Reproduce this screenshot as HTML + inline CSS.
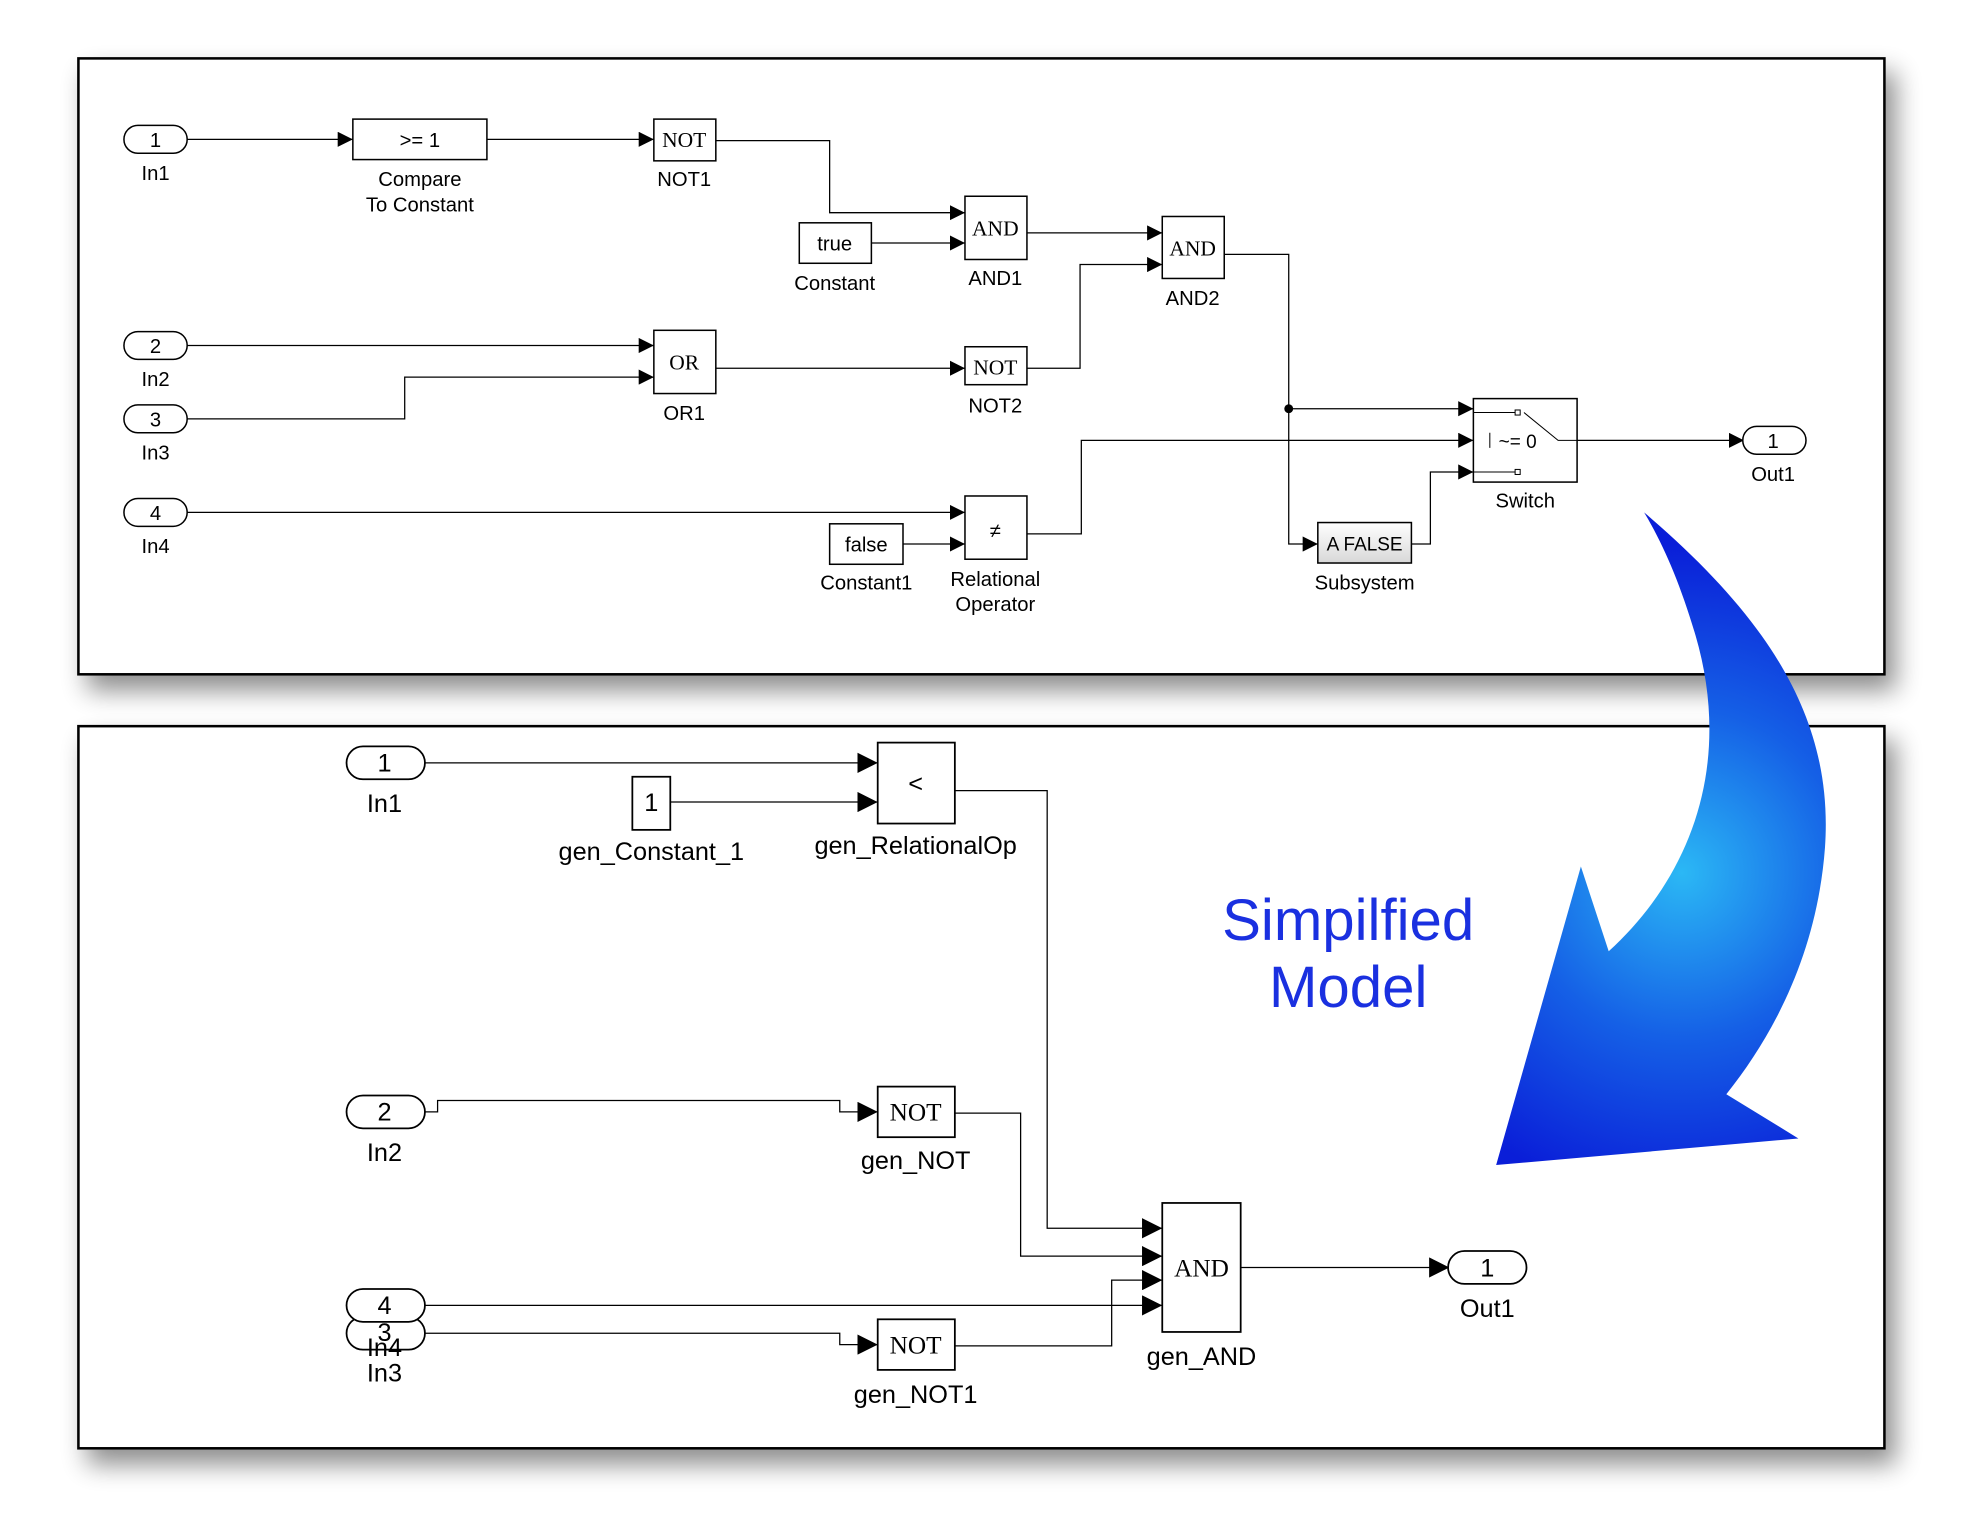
<!DOCTYPE html>
<html><head><meta charset="utf-8"><style>
html,body{margin:0;padding:0;background:#fff;}
svg{display:block;}
text{font-family:"Liberation Sans",Arial,sans-serif;fill:#000;}
text.s{font-family:"Liberation Serif","Times New Roman",serif;}
</style></head><body>
<svg width="1978" height="1532" viewBox="0 0 1564 1211" xmlns="http://www.w3.org/2000/svg">
<defs>
<filter id="sh" x="-5%" y="-5%" width="112%" height="120%"><feGaussianBlur in="SourceAlpha" stdDeviation="10"/><feOffset dx="8" dy="12"/><feComponentTransfer><feFuncA type="linear" slope="0.45"/></feComponentTransfer><feMerge><feMergeNode/><feMergeNode in="SourceGraphic"/></feMerge></filter>
<marker id="a" viewBox="0 0 10 10" refX="10" refY="5" markerWidth="12" markerHeight="12" markerUnits="userSpaceOnUse" orient="auto"><path d="M0,0L10,5L0,10z" fill="#000"/></marker>
<marker id="b" viewBox="0 0 10 10" refX="10" refY="5" markerWidth="16" markerHeight="16" markerUnits="userSpaceOnUse" orient="auto"><path d="M0,0L10,5L0,10z" fill="#000"/></marker>
<radialGradient id="g" cx="1330" cy="690" r="260" gradientUnits="userSpaceOnUse"><stop offset="0" stop-color="#2bb8f5"/><stop offset="0.5" stop-color="#1560e6"/><stop offset="1" stop-color="#0a1ed8"/></radialGradient>
<linearGradient id="sub" x1="0" y1="0" x2="0" y2="1"><stop offset="0" stop-color="#fff"/><stop offset="1" stop-color="#d8d8d8"/></linearGradient>
</defs>
<rect x="62" y="46" width="1428" height="487" fill="#fff" stroke="#000" stroke-width="2" filter="url(#sh)"/>
<rect x="62" y="574" width="1428" height="571" fill="#fff" stroke="#000" stroke-width="2" filter="url(#sh)"/>

<!-- TOP -->
<g fill="none" stroke="#000" stroke-width="1">
<path d="M148,110H279" marker-end="url(#a)"/>
<path d="M385,110H517" marker-end="url(#a)"/>
<path d="M566,111H656V168H763" marker-end="url(#a)"/>
<path d="M689,192H763" marker-end="url(#a)"/>
<path d="M812,184H919" marker-end="url(#a)"/>
<path d="M968,201H1019V430H1042" marker-end="url(#a)"/>
<path d="M1019,323H1165" marker-end="url(#a)"/>
<path d="M148,273H517" marker-end="url(#a)"/>
<path d="M148,331H320V298H517" marker-end="url(#a)"/>
<path d="M566,291H763" marker-end="url(#a)"/>
<path d="M812,291H854V209H919" marker-end="url(#a)"/>
<path d="M148,405H763" marker-end="url(#a)"/>
<path d="M714,430H763" marker-end="url(#a)"/>
<path d="M812,422H855V348H1165" marker-end="url(#a)"/>
<path d="M1116,430H1131V373H1165" marker-end="url(#a)"/>
<path d="M1247,348H1379" marker-end="url(#a)"/>
</g>
<circle cx="1019" cy="323" r="3.5" fill="#000"/>
<g fill="#fff" stroke="#000" stroke-width="1.2">
<rect x="98" y="99" width="50" height="22" rx="11"/>
<rect x="98" y="262" width="50" height="22" rx="11"/>
<rect x="98" y="320" width="50" height="22" rx="11"/>
<rect x="98" y="394" width="50" height="22" rx="11"/>
<rect x="1378" y="337" width="50" height="22" rx="11"/>
<rect x="279" y="94" width="106" height="32"/>
<rect x="517" y="94" width="49" height="33"/>
<rect x="763" y="155" width="49" height="50"/>
<rect x="632" y="176" width="57" height="32"/>
<rect x="919" y="171" width="49" height="49"/>
<rect x="517" y="261" width="49" height="50"/>
<rect x="763" y="274" width="49" height="30"/>
<rect x="763" y="392" width="49" height="50"/>
<rect x="656" y="414" width="58" height="32"/>
<rect x="1165" y="315" width="82" height="66"/>
<rect x="1042" y="413" width="74" height="32" fill="url(#sub)"/>
</g>
<g fill="none" stroke="#000" stroke-width="0.8">
<path d="M1165,326H1198M1205,326L1232,348H1247M1165,373H1198M1178,342V354"/>
<rect x="1198" y="324" width="4" height="4"/><rect x="1198" y="371" width="4" height="4"/>
</g>
<g font-size="16" text-anchor="middle">
<text x="123" y="116">1</text><text x="123" y="279">2</text><text x="123" y="337">3</text><text x="123" y="411">4</text><text x="1402" y="354">1</text>
<text x="123" y="142">In1</text><text x="123" y="305">In2</text><text x="123" y="363">In3</text><text x="123" y="437">In4</text><text x="1402" y="380">Out1</text>
<text x="332" y="116">&gt;= 1</text>
<text x="332" y="147">Compare</text><text x="332" y="167">To Constant</text>
<text x="541" y="147">NOT1</text><text x="787" y="225">AND1</text><text x="660" y="229">Constant</text>
<text x="943" y="241">AND2</text><text x="541" y="332">OR1</text><text x="787" y="326">NOT2</text>
<text x="660" y="198">true</text><text x="685" y="436">false</text>
<text x="685" y="466">Constant1</text><text x="787" y="463">Relational</text><text x="787" y="483">Operator</text>
<text x="1206" y="401">Switch</text><text x="1079" y="466">Subsystem</text>
<text x="787" y="425">≠</text><text x="1200" y="354" font-size="15">~= 0</text>
<text x="1079" y="435" font-size="15">A  FALSE</text>
</g>
<g font-size="17" text-anchor="middle">
<text class="s" x="541" y="116">NOT</text>
<text class="s" x="787" y="186">AND</text>
<text class="s" x="943" y="202">AND</text>
<text class="s" x="541" y="292">OR</text>
<text class="s" x="787" y="296">NOT</text>
</g>

<!-- BOTTOM -->
<g fill="none" stroke="#000" stroke-width="1">
<path d="M336,603H694" marker-end="url(#b)"/>
<path d="M530,634H694" marker-end="url(#b)"/>
<path d="M755,625H828V971H919" marker-end="url(#b)"/>
<path d="M336,879H346V870H664V879H694" marker-end="url(#b)"/>
<path d="M755,880H807V993H919" marker-end="url(#b)"/>
<path d="M336,1032H919" marker-end="url(#b)"/>
<path d="M336,1054H664V1063H694" marker-end="url(#b)"/>
<path d="M755,1064H879V1012H919" marker-end="url(#b)"/>
<path d="M981,1002H1146" marker-end="url(#b)"/>
</g>
<g fill="#fff" stroke="#000" stroke-width="1.4">
<rect x="274" y="1041" width="62" height="26" rx="13"/>
<rect x="274" y="1019" width="62" height="26" rx="13"/>
<rect x="274" y="590" width="62" height="26" rx="13"/>
<rect x="274" y="866" width="62" height="26" rx="13"/>
<rect x="1145" y="989" width="62" height="26" rx="13"/>
<rect x="694" y="587" width="61" height="64"/>
<rect x="500" y="614" width="30" height="42"/>
<rect x="694" y="859" width="61" height="40"/>
<rect x="919" y="951" width="62" height="102"/>
<rect x="694" y="1043" width="61" height="40"/>
</g>
<g font-size="20" text-anchor="middle">
<text x="304" y="610">1</text><text x="304" y="886">2</text><text x="304" y="1039">4</text><text x="304" y="1060">3</text>
<text x="1176" y="1009">1</text>
<text x="304" y="642">In1</text><text x="304" y="918">In2</text><text x="304" y="1072">In4</text><text x="304" y="1092">In3</text>
<text x="1176" y="1041">Out1</text>
<text x="724" y="626">&lt;</text><text x="515" y="641">1</text>
<text x="724" y="675">gen_RelationalOp</text><text x="515" y="680">gen_Constant_1</text>
<text x="724" y="924">gen_NOT</text><text x="950" y="1079">gen_AND</text><text x="724" y="1109">gen_NOT1</text>
<text class="s" x="724" y="886">NOT</text>
<text class="s" x="950" y="1009">AND</text>
<text class="s" x="724" y="1070">NOT</text>
</g>

<!-- Big arrow -->
<path d="M1300,405C1400,490 1450,570 1443,670C1437,750 1405,815 1365,865L1422,900L1183,921L1250,685L1272,752C1340,690 1370,600 1340,500C1328,460 1315,430 1300,405Z" fill="url(#g)"/>
<g font-size="46" text-anchor="middle">
<text x="1066" y="743" style="fill:#1a30e0">Simpilfied</text>
<text x="1066" y="796" style="fill:#1a30e0">Model</text>
</g>
</svg>
</body></html>
